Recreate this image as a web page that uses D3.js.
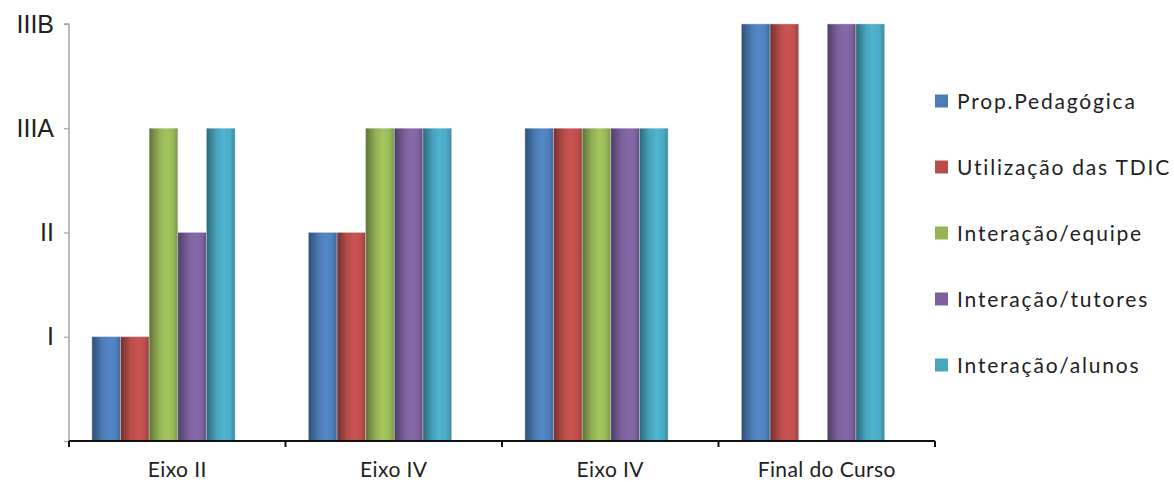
<!DOCTYPE html>
<html>
<head>
<meta charset="utf-8">
<script src="https://cdn.jsdelivr.net/npm/d3@7"></script>
<style>
  html, body { margin: 0; padding: 0; background: #fff; }
  svg { display: block; }
</style>
</head>
<body>
<script>
// Categories (x axis) and series names
const categories = ["Eixo II", "Eixo IV", "Eixo IV ", "Final do Curso"];
const categoryLabels = ["Eixo II", "Eixo IV", "Eixo IV", "Final do Curso"];
const seriesNames = ["Prop.Pedagógica", "Utilização das TDIC", "Interação/equipe", "Interação/tutores", "Interação/alunos"];
const seriesColors = ["#4F81BD", "#C0504D", "#9BBB59", "#8064A2", "#4BACC6"];

// Level reached per series, per category (0 = none, 1 = I, 2 = II, 3 = IIIA, 4 = IIIB)
const propPedagogica = [1, 2, 3, 4];
const utilizacaoTDIC = [1, 2, 3, 4];
const interacaoEquipe = [3, 3, 3, null];
const interacaoTutores = [2, 3, 3, 4];
const interacaoAlunos = [3, 3, 3, 4];
const seriesValues = [propPedagogica, utilizacaoTDIC, interacaoEquipe, interacaoTutores, interacaoAlunos];

// Y tick labels
const levelTicks = [0, 1, 2, 3, 4];
const levelLabels = ["", "I", "II", "IIIA", "IIIB"];

const W = 1174, H = 482;
const svg = d3.select("body").append("svg").attr("width", W).attr("height", H);

const plotLeft = 69, plotRight = 935, plotTop = 24, plotBottom = 441;

const x = d3.scaleBand().domain(categories).range([plotLeft, plotRight]).padding(0);
const inner = d3.scaleBand().domain(seriesNames)
  .range([x.bandwidth() * 0.106, x.bandwidth() * 0.767]).padding(0);
const y = d3.scaleLinear().domain([0, 4]).range([plotBottom, plotTop]);

// Cylinder-like horizontal shading for each series
const defs = svg.append("defs");
seriesColors.forEach((c, i) => {
  const base = d3.color(c);
  const g = defs.append("linearGradient").attr("id", "grad" + i)
    .attr("x1", 0).attr("x2", 1).attr("y1", 0).attr("y2", 0);
  const stops = [
    [0, base.darker(1.4)],
    [0.12, base.darker(0.9)],
    [0.35, base.darker(0.15)],
    [0.6, base.brighter(0.15)],
    [0.82, base],
    [1, base.darker(0.6)]
  ];
  stops.forEach(([o, col]) => g.append("stop").attr("offset", o).attr("stop-color", col.formatHex()));
});

// Y axis
const yAxis = d3.axisLeft(y).tickValues(levelTicks).tickFormat(d => levelLabels[d]).tickSize(5).tickPadding(10);
const gy = svg.append("g").attr("transform", `translate(${plotLeft},0)`).call(yAxis);
gy.select(".domain").attr("stroke", "#a6a6a6").attr("stroke-width", 1.5)
  .attr("d", `M-5,${plotTop}H0V${plotBottom}`);
gy.selectAll(".tick line").attr("stroke", "#a6a6a6").attr("stroke-width", 1.2);
gy.selectAll(".tick text")
  .attr("font-family", "'Liberation Sans', Arial, sans-serif")
  .attr("font-size", 25).attr("fill", "#222");

// Bars
const groups = svg.append("g").selectAll("g").data(categories).join("g")
  .attr("transform", d => `translate(${x(d)},0)`);

groups.each(function(cat, ci) {
  const gg = d3.select(this);
  seriesNames.forEach((s, si) => {
    const v = seriesValues[si][ci];
    if (v == null || v === 0) return;
    gg.append("rect")
      .attr("x", inner(s))
      .attr("y", y(v))
      .attr("width", inner.bandwidth())
      .attr("height", y(0) - y(v))
      .attr("fill", `url(#grad${si})`)
      .attr("stroke", "rgba(200,205,215,0.6)")
      .attr("stroke-width", 0.8);
  });
});

// X axis
const xAxis = d3.axisBottom(x).tickSize(0).tickFormat((d, i) => categoryLabels[i]);
const gx = svg.append("g").attr("transform", `translate(0,${plotBottom})`).call(xAxis);
gx.select(".domain").attr("stroke", "#111").attr("stroke-width", 2).attr("d", `M${plotLeft},0H${plotRight}`);
gx.selectAll(".tick text")
  .attr("y", 36).attr("dy", null)
  .attr("font-family", "Lato, 'Open Sans', sans-serif")
  .attr("font-size", 21).attr("letter-spacing", 0.4).attr("fill", "#222");
// boundary ticks between categories
const bounds = categories.map(c => x(c)).concat([x(categories[categories.length - 1]) + x.bandwidth()]);
gx.selectAll(".bound").data(bounds).join("line").attr("class", "bound")
  .attr("x1", d => d).attr("x2", d => d).attr("y1", 0).attr("y2", 6)
  .attr("stroke", "#111").attr("stroke-width", 2);

// Legend
const legend = svg.append("g").attr("transform", "translate(935,0)");
const ly = d3.scalePoint().domain(seriesNames).range([101, 365]);
seriesNames.forEach((s, i) => {
  legend.append("rect").attr("x", 0).attr("y", ly(s) - 6.5).attr("width", 13).attr("height", 13)
    .attr("fill", d3.color(seriesColors[i]).darker(0.1).formatHex());
  legend.append("text").attr("x", 22).attr("y", ly(s)).attr("dy", "0.36em")
    .attr("font-family", "Lato, 'Open Sans', sans-serif").attr("font-size", 21)
    .attr("letter-spacing", 1.8)
    .attr("fill", "#222").text(s);
});
</script>
</body>
</html>
